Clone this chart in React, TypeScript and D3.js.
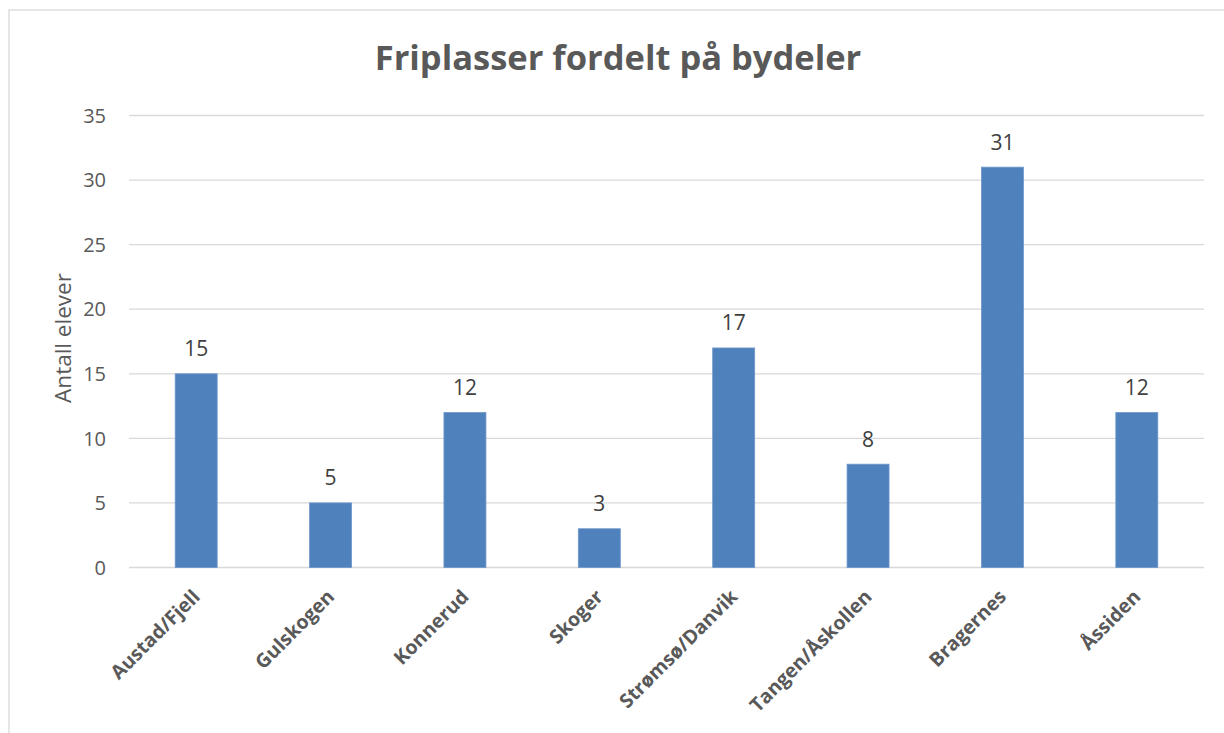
import * as d3 from 'd3';

const categories = ['Austad/Fjell', 'Gulskogen', 'Konnerud', 'Skoger', 'Strømsø/Danvik', 'Tangen/Åskollen', 'Bragernes', 'Åssiden'];
const values = [15, 5, 12, 3, 17, 8, 31, 12];
const yTicks = [0, 5, 10, 15, 20, 25, 30, 35];

const FONT = '"Open Sans", "DejaVu Sans", sans-serif';

export default function App() {
  const width = 1224;
  const height = 733;
  const left = 129;
  const right = 1204;
  const top = 115.5;
  const bottom = 567.5;

  const x = d3.scaleBand<string>().domain(categories).range([left, right]).paddingInner(0.6875).paddingOuter(0.34375);
  const y = d3.scaleLinear().domain([0, 35]).range([bottom, top]);

  return (
    <svg width={width} height={height} style={{ position: 'absolute', left: 0, top: 0, background: '#fff' }} fontFamily={FONT}>
      <rect x={9} y={10} width={1240} height={760} fill="#fff" stroke="#d9d9d9" strokeWidth={1.3} />
      <text x={618} y={70} textAnchor="middle" fontSize={34.5} fontWeight="bold" fill="#595959">
        Friplasser fordelt på bydeler
      </text>

      {yTicks.map((t) => (
        <g key={t}>
          <line x1={left} x2={right} y1={y(t)} y2={y(t)} stroke="#d9d9d9" strokeWidth={1.3} />
          <text x={106} y={y(t)} dy="0.36em" textAnchor="end" fontSize={20} fill="#595959">
            {t}
          </text>
        </g>
      ))}

      <text transform={`translate(71,338) rotate(-90)`} textAnchor="middle" fontSize={22.5} fill="#595959">
        Antall elever
      </text>

      {categories.map((c, i) => {
        const bx = x(c) ?? 0;
        const cx = bx + x.bandwidth() / 2;
        return (
          <g key={c}>
            <rect x={bx} y={y(values[i])} width={x.bandwidth()} height={bottom - y(values[i])} fill="#4f81bd" stroke="#6f97c9" strokeWidth={0.8} />
            <text x={cx} y={y(values[i]) - 17.5} textAnchor="middle" fontSize={21} fill="#404040">
              {values[i]}
            </text>
            <text transform={`translate(${cx + 5},${598}) rotate(-45)`} textAnchor="end" fontSize={19.5} fontWeight="bold" fill="#595959">
              {c}
            </text>
          </g>
        );
      })}
    </svg>
  );
}
